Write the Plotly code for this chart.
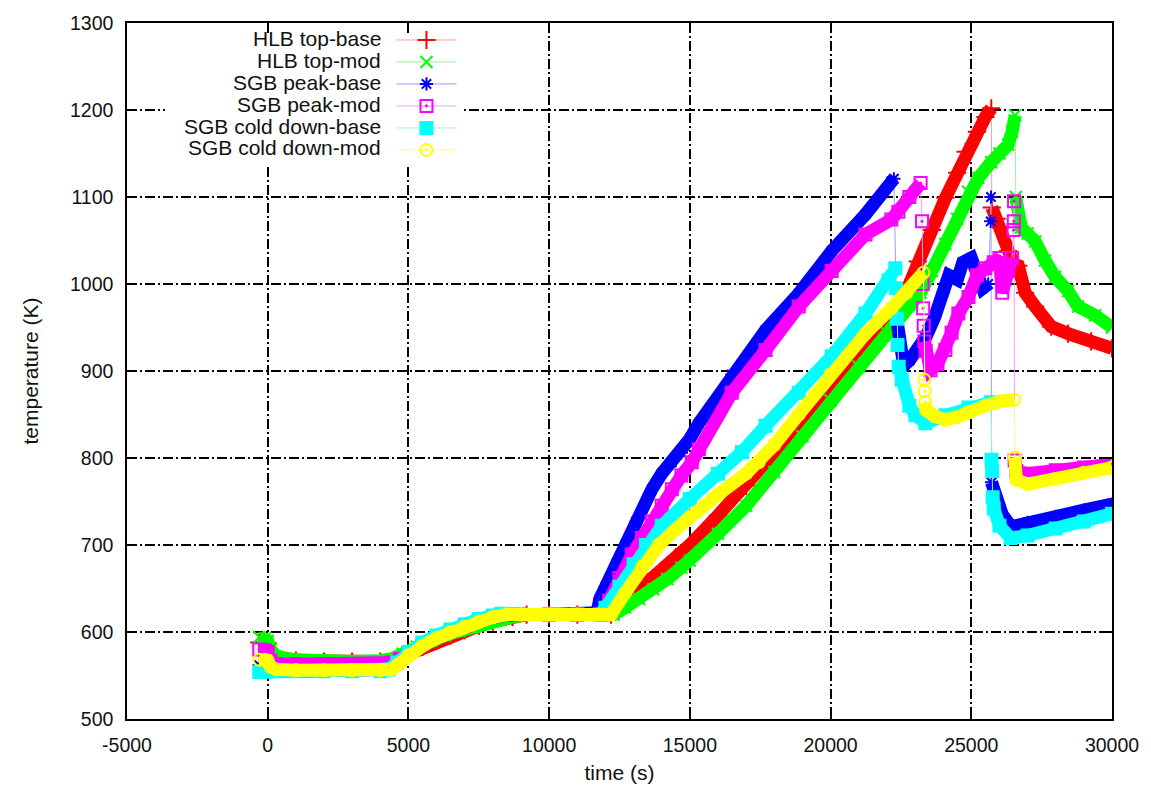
import plotly.graph_objects as go

# ---- HLB top-base : time (s) / temperature (K)
hlb_base_t = [-300, -100, 0, 100, 300, 1000, 2000, 3000, 4000, 4500, 5000, 5500, 6000, 6500, 7000, 7500,
              8000, 8700, 9200, 10000, 11000, 12200, 12600, 13000, 13500, 14000, 14500, 15000, 16000, 17000,
              18000, 19000, 20000, 21000, 22000, 22400, 22800, 23100, 23600, 24080, 24500, 24800, 25200,
              25500, 25710, 25730, 25900, 26060, 26310, 26500, 26670, 26915, 27270, 27840, 28440, 29260, 30000]
hlb_base_T = [588, 588, 587, 576, 570, 567, 566, 566, 566, 568, 575, 583, 590, 596, 602, 607,
              612, 617, 620, 620, 620, 620, 632, 643, 657, 671, 686, 700, 734, 768,
              806, 846, 886, 924, 962, 978, 1000, 1026, 1062, 1099, 1128, 1152, 1175,
              1192, 1202, 1088, 1075, 1065, 1038, 1023, 1021, 990, 974, 951, 943, 934, 926]

# ---- HLB top-mod
hlb_mod_t = [-300, -100, 0, 100, 300, 1000, 2000, 3000, 4000, 4400, 4800, 5300, 5800, 6300, 6800, 7300,
             7800, 8300, 8800, 9300, 10000, 11000, 12300, 12700, 13200, 13700, 14200, 14700, 15000, 16000,
             17000, 18000, 19000, 20000, 21000, 22000, 22400, 22800, 23200, 23600, 24080, 24500, 24890,
             25250, 25710, 26000, 26310, 26450, 26560, 26580, 26770, 27000, 27270, 27620, 27980, 28440,
             28790, 29400, 30000]
hlb_mod_T = [594, 593, 590, 580, 572, 568, 566, 566, 567, 569, 575, 583, 590, 596, 601, 606,
             611, 615, 618, 620, 620, 620, 620, 628, 638, 649, 661, 674, 682, 713,
             745, 784, 825, 866, 905, 944, 960, 976, 990, 1015, 1046, 1075, 1106,
             1122, 1140, 1150, 1160, 1175, 1194, 1100, 1065, 1058, 1049, 1027, 1008, 992,
             974, 964, 950]

# ---- SGB peak-base
sgb_peak_base_t = [-300, -100, 0, 100, 300, 1000, 2000, 3000, 4000, 4300, 4600, 5000, 5500, 6000, 6500,
                   7000, 7500, 8000, 8500, 9000, 10000, 11000, 11700, 11800, 12000, 12380, 12700, 13090,
                   13650, 14000, 14360, 14700, 15000, 15320, 16490, 17690, 18870, 20040, 21240, 22160,
                   22250, 22350, 22450, 22600, 22800, 23100, 23400, 23700, 24000, 24200, 24500, 24700,
                   25000, 25200, 25400, 25600, 25690, 25700, 25720, 25900, 26100, 26420, 27000, 28000,
                   29000, 30000]
sgb_peak_base_T = [562, 560, 558, 556, 555, 555, 555, 555, 555, 557, 564, 575, 587, 595, 602,
                   608, 614, 618, 620, 620, 620, 620, 622, 638, 652, 678, 700, 727,
                   764, 782, 795, 806, 822, 840, 896, 947, 989, 1038, 1080, 1118,
                   1121, 960, 930, 906, 912, 924, 940, 962, 990, 1010, 1005, 1025,
                   1030, 1010, 995, 1000, 1072, 1100, 772, 750, 735, 721, 726, 733,
                   740, 747]

# ---- SGB peak-mod
sgb_peak_mod_t = [-300, -100, 0, 100, 300, 1000, 2000, 3000, 4000, 4400, 4700, 5000, 5500, 6000, 6500,
                  7000, 7500, 8000, 8500, 9000, 10000, 11000, 11900, 12130, 12500, 12940, 13300, 13650,
                  14000, 14360, 14700, 15070, 15320, 16490, 17690, 18870, 20040, 21240, 22160, 22410,
                  22800, 23200, 23250, 23270, 23290, 23310, 23330, 23380, 23550, 23800, 24080, 24300,
                  24540, 24900, 25200, 25500, 25800, 26000, 26100, 26300, 26450, 26500, 26510, 26520,
                  26540, 26600, 27000, 28000, 29000, 30000]
sgb_peak_mod_T = [580, 579, 577, 567, 563, 563, 563, 563, 563, 565, 569, 576, 586, 594, 601,
                  607, 613, 618, 620, 620, 620, 620, 620, 636, 662, 689, 708, 727,
                  745, 764, 780, 795, 810, 875, 924, 974, 1015, 1057, 1074, 1083,
                  1100, 1116, 1072, 1000, 972, 952, 934, 923, 901, 908, 924, 944,
                  966, 985, 1010, 1018, 1025, 1030, 990, 1015, 1030, 1062, 1072, 1095,
                  797, 785, 782, 786, 789, 793]

# ---- SGB cold down-base
sgb_cold_base_t = [-300, -100, 0, 100, 300, 1000, 2000, 3000, 4000, 4300, 4600, 5000, 5500, 6000, 6500,
                   7000, 7500, 8000, 8300, 9000, 10000, 11000, 11800, 12000, 12500, 13000, 13440, 14000,
                   15000, 16000, 16850, 17690, 18870, 20040, 21240, 22060, 22300, 22330, 22360, 22380,
                   22420, 22530, 22800, 23010, 23370, 24080, 24900, 25700, 25720, 25740, 25760, 25800,
                   26000, 26400, 27000, 28000, 29000, 30000]
sgb_cold_base_T = [554, 555, 555, 555, 555, 555, 555, 555, 555, 557, 565, 577, 588, 596, 603,
                   609, 615, 619, 621, 620, 620, 620, 620, 628, 652, 678, 700, 722,
                   753, 782, 807, 837, 875, 917, 966, 1004, 1018, 995, 960, 930,
                   905, 890, 860, 849, 840, 849, 858, 864, 798, 785, 755, 742,
                   722, 708, 711, 719, 727, 736]

# ---- SGB cold down-mod
sgb_cold_mod_t = [-300, -100, 0, 100, 300, 1000, 2000, 3000, 4000, 4400, 4700, 5000, 5500, 6000, 6500,
                  7000, 7500, 8000, 8500, 9000, 10000, 11000, 12200, 12700, 13300, 13900, 14500, 15000,
                  16000, 17000, 17450, 18000, 18870, 20000, 21240, 22160, 22700, 23300, 23330, 23345,
                  23360, 23400, 23700, 24080, 24500, 24900, 25500, 26000, 26525, 26545, 26600, 27000,
                  28000, 29000, 30000]
sgb_cold_mod_T = [568, 568, 567, 560, 557, 556, 556, 556, 556, 557, 564, 573, 584, 593, 600,
                  606, 612, 617, 620, 620, 620, 620, 620, 645, 675, 700, 718, 732,
                  758, 782, 795, 815, 850, 896, 943, 972, 990, 1013, 890, 877,
                  864, 855, 848, 844, 847, 853, 860, 865, 867, 801, 775, 770,
                  776, 783, 789]

labels = ["HLB top-base", "HLB top-mod", "SGB peak-base", "SGB peak-mod",
          "SGB cold down-base", "SGB cold down-mod"]
times = [hlb_base_t, hlb_mod_t, sgb_peak_base_t, sgb_peak_mod_t, sgb_cold_base_t, sgb_cold_mod_t]
temps = [hlb_base_T, hlb_mod_T, sgb_peak_base_T, sgb_peak_mod_T, sgb_cold_base_T, sgb_cold_mod_T]

# axis ticks
x_ticks = [-5000, 0, 5000, 10000, 15000, 20000, 25000, 30000]
x_tick_text = ["-5000", "0", "5000", "10000", "15000", "20000", "25000", "30000"]
y_ticks = [500, 600, 700, 800, 900, 1000, 1100, 1200, 1300]
y_tick_text = ["500", "600", "700", "800", "900", "1000", "1100", "1200", "1300"]

point_colors = ["#ff0000", "#00ff00", "#0000ff", "#ff00ff", "#00ffff", "#ffff00"]
line_colors = ["#ff9c9c", "#9cf09c", "#9c9cff", "#ff9cff", "#9cf2ff", "#ffff96"]
symbols = ["cross-thin", "x-thin", "asterisk-open", "square-open-dot", "square", "circle-open-dot"]
sizes = [13, 12, 11, 12, 12, 12]

FONT = "Liberation Sans, Arial, sans-serif"
JUMP_RATE = 0.5  # K/s: steeper steps are shown only by the thin connecting line

PLOT_L, PLOT_T, PLOT_W, PLOT_H = 127, 17, 987, 702


def px_x(px):
    return (px - PLOT_L) / PLOT_W


def px_y(py):
    return (PLOT_T + PLOT_H - py) / PLOT_H


def dense_trace(t, v):
    """Split a curve where it steps abruptly, so the wide trail stays on the slow parts."""
    xs, ys = [t[0]], [v[0]]
    for i in range(1, len(t)):
        if abs(v[i] - v[i - 1]) > JUMP_RATE * (t[i] - t[i - 1]):
            xs.append(None)
            ys.append(None)
        xs.append(t[i])
        ys.append(v[i])
    return xs, ys


fig = go.Figure()
for name, t, v, pc, lc, sym, sz in zip(labels, times, temps, point_colors, line_colors, symbols, sizes):
    fig.add_trace(go.Scatter(
        x=t, y=v, mode="lines+markers", name=" ", legendgroup=name,
        line=dict(color=lc, width=1),
        marker=dict(symbol=sym, size=sz, color=pc, line=dict(color=pc, width=2)),
        hovertemplate=name + "<br>%{x} s, %{y} K<extra></extra>",
    ))
    bx, by = dense_trace(t, v)
    fig.add_trace(go.Scatter(
        x=bx, y=by, mode="lines", showlegend=False, legendgroup=name,
        line=dict(color=pc, width=13), connectgaps=False, hoverinfo="skip",
    ))

# opaque key box, hiding the grid behind the key
fig.add_shape(type="rect", xref="paper", yref="paper",
              x0=px_x(165), x1=px_x(463), y0=px_y(160), y1=px_y(27),
              fillcolor="white", line=dict(width=0), layer="above")

# key labels sit to the left of their samples
row_y = [38, 60, 82, 104, 126, 148]
for name, ry in zip(labels, row_y):
    fig.add_annotation(
        x=px_x(384), y=px_y(ry - 5), xref="paper", yref="paper",
        text=name, showarrow=False, xanchor="right", yanchor="middle",
        font=dict(family=FONT, size=21, color="#111"),
    )

axis_common = dict(
    showline=True, linecolor="black", linewidth=1.5, mirror="ticks",
    ticks="inside", ticklen=9, tickwidth=1.5, tickcolor="black",
    showgrid=True, gridcolor="black", gridwidth=1.5, griddash="10px,3px,2px,3px",
    zeroline=False, tickfont=dict(family=FONT, size=19.5, color="#111"),
    tickmode="array", ticklabelstandoff=8,
)

fig.update_layout(
    width=1151, height=794,
    margin=dict(l=PLOT_L, r=1151 - PLOT_L - PLOT_W, t=PLOT_T, b=794 - PLOT_T - PLOT_H),
    paper_bgcolor="white", plot_bgcolor="white",
    showlegend=True,
    legend=dict(
        x=px_x(392), y=px_y(18), xanchor="left", yanchor="top",
        bgcolor="rgba(0,0,0,0)", borderwidth=0, itemwidth=60,
        font=dict(family=FONT, size=14.6, color="#111"), tracegroupgap=0,
    ),
    xaxis=dict(range=[-5000, 30000], tickvals=x_ticks, ticktext=x_tick_text,
               title=dict(text="time (s)", font=dict(family=FONT, size=21, color="#111"), standoff=10),
               **axis_common),
    yaxis=dict(range=[500, 1300], tickvals=y_ticks, ticktext=y_tick_text,
               title=dict(text="temperature (K)", font=dict(family=FONT, size=21, color="#111"), standoff=26),
               **axis_common),
)

fig.write_html("out.html")
